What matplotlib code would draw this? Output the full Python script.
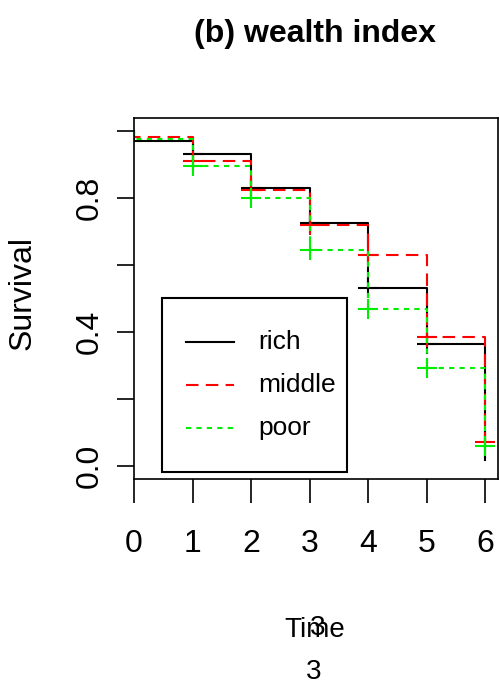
"""
Kaplan-Meier style survival curves by wealth index, panel (b)
"""
import matplotlib
matplotlib.use('Agg')
import matplotlib.pyplot as plt
from matplotlib.lines import Line2D
from matplotlib.patches import Rectangle

# survival level at each time point (value after the drop at that time)
times = [0, 1, 2, 3, 4, 5, 6]
rich = [0.970, 0.930, 0.831, 0.726, 0.532, 0.363, 0.018]
middle = [0.983, 0.911, 0.824, 0.719, 0.630, 0.386, 0.073]
poor = [0.975, 0.896, 0.799, 0.645, 0.468, 0.292, 0.060]
# censor marks ("+") are drawn at these time points
rich_marks = [1, 2, 3, 4, 5]
middle_marks = [1, 2, 3, 4, 5, 6]
poor_marks = [1, 2, 3, 4, 5, 6]

group_names = ['rich', 'middle', 'poor']
colors = ['black', '#ff0000', '#00ee00']
styles = ['-', (0, (6, 3.5)), (0, (2.5, 2.5))]

xticks = [0, 1, 2, 3, 4, 5, 6]
yticks = [0.0, 0.2, 0.4, 0.6, 0.8, 1.0]
ytick_labels = ['0.0', '', '0.4', '', '0.8', '']

plt.rcParams['font.family'] = ['Liberation Sans', 'DejaVu Sans']

W, H = 499, 688
def fx(px):
    return px / W
def fy(py):
    return 1 - py / H

fig = plt.figure(figsize=(W / 100, H / 100), dpi=100)
ax = fig.add_axes([fx(134), fy(479.4), 364 / W, 361.8 / H])

for surv, marks, c, ls, name in zip([rich, middle, poor],
                                    [rich_marks, middle_marks, poor_marks],
                                    colors, styles, group_names):
    xs = [0] + times
    ys = [1.0] + surv
    ax.step(xs, ys, where='post', color=c, linestyle=ls, lw=1.5, label=name)
    ax.plot(marks, [surv[times.index(t)] for t in marks], '+', color=c,
            ms=14, mew=1.5, linestyle='none')

ax.set_xlim(0, 6.22)
ax.set_ylim(-0.04, 1.04)

ax.set_xticks(xticks)
ax.set_xticklabels([str(t) for t in xticks], fontsize=23)
ax.set_yticks(yticks)
ax.set_yticklabels(ytick_labels, fontsize=23, rotation=90, va='center')
ax.tick_params(axis='x', length=17, width=1.2, pad=19, direction='out')
ax.tick_params(axis='y', length=12, width=1.2, pad=9, direction='out')
for sp in ax.spines.values():
    sp.set_linewidth(1.2)

# legend box, drawn like R's legend()
fig.add_artist(Rectangle((fx(162), fy(472)), (347 - 162) / W, (472 - 298) / H,
                         transform=fig.transFigure, fill=False,
                         edgecolor='black', lw=1.5))
for i, (name, c, ls) in enumerate(zip(group_names, colors, styles)):
    row = 342 + i * 43
    fig.add_artist(Line2D([fx(186), fx(234)], [fy(row), fy(row)],
                          transform=fig.transFigure, color=c, linestyle=ls,
                          lw=1.5))
    fig.text(fx(258), fy(row), name, fontsize=19, ha='left', va='center')

fig.text(fx(315), fy(34), '(b) wealth index', fontsize=23, fontweight='bold',
         ha='center', va='center')
fig.text(fx(23), fy(293), 'Survival', fontsize=23, rotation=90,
         ha='center', va='center')
fig.text(fx(315), fy(630), 'Time', fontsize=20, ha='center', va='center')
fig.text(fx(318), fy(628), '3', fontsize=20, ha='center', va='center')
fig.text(fx(314), fy(672), '3', fontsize=20, ha='center', va='center')

fig.savefig('out.png', dpi=100)
